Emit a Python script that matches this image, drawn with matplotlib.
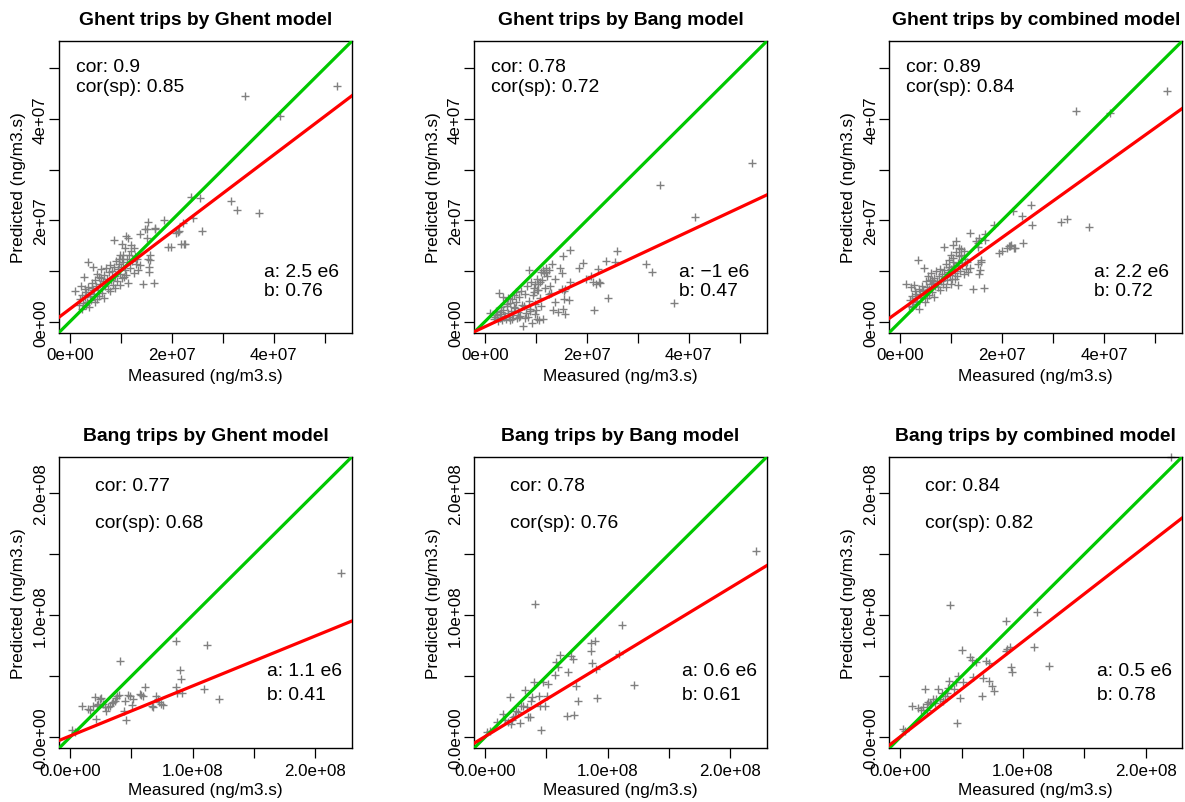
import matplotlib
matplotlib.use("Agg")
import matplotlib.pyplot as plt
import numpy as np

plt.rcParams['font.family'] = ['Liberation Sans', 'DejaVu Sans']

SCALE = 1e6  # all values below in units of 1e6 ng/m3.s

# ---------------- Ghent trips ----------------
ghent_measured = [
    52.3, 34.4, 41.2, 31.6, 32.8, 37.0, 23.8, 25.6, 25.9, 24.1,
    22.1, 21.5, 22.4, 21.8, 19.3, 19.9, 18.4, 16.6, 16.5, 14.3,
    15.4, 14.8, 15.2, 16.7, 13.7, 15.2, 20.9, 21.3, 22.6, 15.8,
    15.3, 15.8, 8.6, 11.0, 11.5, 10.3, 12.0, 10.9, 9.9, 10.4,
    11.6, 9.6, 10.3, 12.9, 13.7, 13.4, 15.6, 15.5, 11.4, 10.7,
    3.5, 4.6, 2.7, 1.1, 2.2, 2.9, 1.8, 2.0, 2.4, 2.6,
    3.0, 3.2, 3.4, 3.6, 3.9, 4.1, 4.3, 4.5, 4.8, 5.0,
    5.2, 5.4, 5.6, 5.8, 6.0, 6.1, 6.3, 6.5, 6.7, 6.9,
    7.1, 7.2, 7.4, 7.6, 7.8, 8.0, 8.2, 8.4, 8.6, 8.8,
    9.0, 9.2, 9.4, 9.6, 9.8, 10.0, 10.2, 10.5, 10.8, 11.1,
    11.3, 11.8, 12.2, 12.5, 12.8, 13.1, 3.7, 4.9, 6.6, 5.3,
    7.9, 8.9, 3.1, 2.3, 6.2, 4.4, 5.7, 9.9, 11.9, 12.6,
]
ghent_by_ghent = [
    46.5, 44.5, 40.5, 23.8, 22.1, 21.4, 24.5, 24.4, 17.9, 20.4,
    19.5, 17.9, 15.4, 15.4, 14.7, 14.7, 20.0, 18.4, 7.6, 7.4,
    19.6, 18.3, 18.2, 18.3, 17.3, 16.4, 17.5, 17.7, 15.3, 13.1,
    12.4, 12.2, 16.2, 16.9, 16.5, 15.4, 15.2, 14.5, 13.1, 13.1,
    13.2, 12.4, 12.4, 11.3, 11.1, 10.1, 10.8, 9.8, 7.7, 8.8,
    11.8, 10.8, 8.8, 6.0, 7.1, 6.4, 3.2, 4.5, 5.3, 3.6,
    4.8, 5.8, 3.9, 6.9, 5.1, 4.3, 7.6, 6.2, 5.4, 8.3,
    7.0, 9.5, 6.3, 8.8, 7.5, 10.3, 5.7, 8.0, 9.2, 7.1,
    10.6, 8.5, 6.5, 9.7, 11.2, 8.2, 9.9, 7.3, 10.8, 9.0,
    12.0, 8.0, 10.3, 11.4, 9.4, 10.8, 8.6, 11.8, 10.1, 9.2,
    12.3, 10.6, 11.9, 9.6, 13.0, 12.3, 2.8, 3.8, 4.6, 4.5,
    6.0, 6.6, 3.2, 2.6, 8.6, 6.6, 5.0, 7.2, 14.0, 14.6,
]
ghent_by_bang = [
    31.2, 27.0, 20.6, 11.3, 9.8, 3.6, 11.9, 11.8, 13.9, 4.7,
    10.3, 2.4, 7.9, 7.5, 11.6, 8.4, 10.5, 14.1, 4.2, 2.0,
    13.0, 10.5, 9.6, 7.9, 8.5, 6.5, 9.0, 7.9, 7.7, 6.5,
    2.6, 1.6, 10.1, 9.8, 10.1, 8.5, 10.5, 7.9, 7.5, 6.2,
    9.6, 5.9, 6.2, 5.6, 3.9, 2.3, 6.0, 4.5, 0.6, 0.3,
    4.8, 4.6, 5.6, 1.8, 2.2, 1.5, 0.5, 1.0, 1.3, 0.2,
    0.8, 1.9, 0.4, 2.4, 1.1, 0.6, 3.0, 1.7, 0.9, 3.6,
    2.1, 4.4, 1.4, 5.2, 2.7, 3.9, 0.8, 2.0, 4.9, 1.2,
    6.1, 3.3, -0.9, 3.0, 5.5, 1.8, 7.1, 0.9, 4.0, 2.6,
    7.9, -0.3, 5.2, 6.6, 3.4, 2.3, 0.6, 7.4, 4.6, 3.0,
    8.2, 6.6, 9.1, 5.5, 7.0, 11.4, 0.9, 0.3, 1.0, 0.6,
    0.7, 2.1, 2.8, 1.4, 5.8, 3.4, 2.9, 1.5, 9.8, 10.2,
]
ghent_by_combined = [
    45.4, 41.5, 41.1, 19.6, 20.3, 18.7, 20.8, 23.1, 19.0, 15.6,
    21.9, 14.9, 14.5, 15.2, 13.6, 13.9, 19.0, 17.3, 6.7, 6.5,
    16.4, 15.9, 15.5, 16.2, 17.5, 14.8, 14.5, 14.9, 14.6, 12.1,
    11.3, 11.8, 14.8, 15.9, 14.6, 15.2, 14.3, 13.8, 13.1, 12.6,
    12.9, 12.2, 11.7, 10.4, 10.6, 9.8, 10.2, 9.4, 7.2, 8.4,
    12.1, 10.5, 7.2, 7.5, 6.8, 6.0, 3.0, 4.2, 5.0, 3.8,
    4.6, 5.5, 4.0, 6.5, 5.3, 4.8, 7.0, 6.0, 5.6, 8.0,
    6.8, 9.0, 6.4, 8.3, 7.4, 9.6, 5.9, 7.6, 8.6, 7.0,
    9.9, 8.1, 6.8, 9.1, 10.4, 8.0, 9.4, 7.5, 10.1, 8.8,
    11.3, 8.2, 9.8, 10.7, 9.2, 10.3, 8.5, 11.0, 9.6, 9.0,
    11.6, 10.0, 11.1, 9.5, 12.3, 11.8, 2.6, 3.9, 4.9, 4.6,
    6.2, 6.9, 3.4, 2.8, 8.2, 6.3, 5.2, 7.5, 13.2, 13.9,
]

# ---------------- Bang trips ----------------
bang_measured = [
    220.5, 40.8, 111.7, 86.1, 121.3, 109.0, 89.5, 90.3, 86.5, 91.4,
    87.4, 61.5, 58.2, 59.5, 56.8, 70.1, 72.0, 67.6, 74.5, 76.2,
    72.5, 66.6, 47.3, 51.1, 50.3, 48.7, 44.0, 46.0, 45.2, 39.9,
    38.6, 37.8, 36.4, 35.0, 34.0, 32.4, 31.0, 29.4, 28.5, 26.9,
    24.2, 25.0, 20.1, 22.0, 18.7, 21.5, 23.0, 16.6, 14.7, 9.8,
    2.0, 3.8,
]
bang_by_ghent = [
    134.8, 62.3, 75.8, 78.6, 31.4, 39.4, 54.8, 48.1, 41.5, 36.0,
    36.4, 41.5, 34.8, 33.5, 35.6, 34.2, 31.5, 24.8, 27.5, 26.3,
    29.0, 25.5, 34.8, 31.3, 26.4, 34.0, 21.8, 14.6, 30.0, 34.8,
    33.7, 32.4, 30.2, 29.3, 28.0, 26.1, 24.8, 21.8, 24.8, 27.5,
    31.5, 32.4, 32.9, 26.6, 25.6, 15.0, 27.5, 22.8, 23.4, 25.6,
    6.3, 4.4,
]
bang_by_bang = [
    152.4, 109.5, 92.1, 77.7, 42.6, 68.6, 78.6, 56.4, 70.9, 32.3,
    60.7, 67.1, 61.4, 57.6, 51.1, 66.8, 64.1, 53.3, 41.8, 30.2,
    18.5, 17.9, 45.1, 43.8, 33.7, 25.6, 33.7, 5.9, 26.1, 45.1,
    33.4, 30.2, 17.1, 16.6, 24.8, 39.1, 26.1, 25.6, 11.5, 20.7,
    17.9, 22.0, 32.9, 13.9, 12.6, 11.2, 17.0, 13.9, 19.3, 13.0,
    4.4, 4.9,
]
bang_by_combined = [
    230.0, 108.1, 103.0, 95.4, 58.2, 73.7, 73.7, 57.4, 70.9, 53.8,
    72.3, 61.4, 63.6, 49.2, 65.5, 62.8, 60.9, 48.4, 41.9, 37.8,
    46.0, 33.7, 50.0, 45.6, 71.7, 32.1, 39.7, 11.7, 45.6, 46.5,
    40.3, 36.4, 34.2, 30.2, 36.4, 31.5, 39.7, 31.5, 28.3, 31.5,
    28.3, 27.5, 39.7, 27.5, 25.0, 22.8, 29.0, 22.8, 24.0, 25.6,
    6.5, 5.5,
]

# panel annotations
titles = ["Ghent trips by Ghent model", "Ghent trips by Bang model", "Ghent trips by combined model",
          "Bang trips by Ghent model", "Bang trips by Bang model", "Bang trips by combined model"]
cor = ["0.9", "0.78", "0.89", "0.77", "0.78", "0.84"]
cor_sp = ["0.85", "0.72", "0.84", "0.68", "0.76", "0.82"]
a_txt = ["2.5 e6", "\u22121 e6", "2.2 e6", "1.1 e6", "0.6 e6", "0.5 e6"]
b_txt = ["0.76", "0.47", "0.72", "0.41", "0.61", "0.78"]
a_val = [2.5e6, -1e6, 2.2e6, 1.1e6, 0.6e6, 0.5e6]
b_val = [0.76, 0.47, 0.72, 0.41, 0.61, 0.78]

row_max = [53.2e6, 221e6]
row_ticks = [[0, 1e7, 2e7, 3e7, 4e7, 5e7], [0, 0.5e8, 1e8, 1.5e8, 2e8]]
row_ticklabels = [["0e+00", "", "2e+07", "", "4e+07", ""],
                  ["0.0e+00", "", "1.0e+08", "", "2.0e+08"]]

xs = [ghent_measured] * 3 + [bang_measured] * 3
ys = [ghent_by_ghent, ghent_by_bang, ghent_by_combined, bang_by_ghent, bang_by_bang, bang_by_combined]

W, H = 1185, 803
fig = plt.figure(figsize=(W / 100, H / 100), dpi=100)

col_left = [59, 474, 889.3]
row_top = [42, 457.7]
box_w, box_h = 293, 291.5

for i in range(6):
    r, c = divmod(i, 3)
    left = col_left[c] / W
    bottom = 1 - (row_top[r] + box_h) / H
    ax = fig.add_axes([left, bottom, box_w / W, box_h / H])
    M = row_max[r]
    lo, hi = -0.04 * M, M * 1.04
    ax.set_xlim(lo, hi)
    ax.set_ylim(lo, hi)
    x = np.array(xs[i]) * SCALE
    y = np.array(ys[i]) * SCALE
    ax.plot(x, y, linestyle='none', marker='+', color='#808080', markersize=6, mew=1.0, zorder=2, clip_on=False)
    ax.axline((0, 0), slope=1, color='#00C800', lw=2.3, zorder=3)
    ax.axline((0, a_val[i]), slope=b_val[i], color='#FF0000', lw=2.3, zorder=4)

    ax.set_xticks(row_ticks[r])
    ax.set_xticklabels(row_ticklabels[r])
    ax.set_yticks(row_ticks[r])
    ax.set_yticklabels(row_ticklabels[r], rotation=90, va='center')
    ax.tick_params(axis='both', length=7, width=0.9, labelsize=12.2, color='black')
    ax.tick_params(axis='x', pad=3.5)
    ax.tick_params(axis='y', pad=1.0)
    for sp in ax.spines.values():
        sp.set_linewidth(1.0)
        sp.set_color('black')

    ax.set_xlabel("Measured (ng/m3.s)", fontsize=12.4)
    ax.set_ylabel("Predicted (ng/m3.s)", fontsize=12.4)
    ax.xaxis.label.set_va('center')
    ax.yaxis.label.set_va('center')
    ax.xaxis.set_label_coords(0.5, -0.149 if r == 0 else -0.141)
    ax.yaxis.set_label_coords(-0.139, 0.5)

    ax.set_title(titles[i], fontsize=13.9, fontweight='bold', pad=12)

    if r == 0:
        ax.text(0.058, 0.911, f"cor: {cor[i]}", transform=ax.transAxes, fontsize=13.9, va='center', ha='left')
        ax.text(0.058, 0.845, f"cor(sp): {cor_sp[i]}", transform=ax.transAxes, fontsize=13.9, va='center', ha='left')
        ax.text(0.70, 0.21, f"a: {a_txt[i]}", transform=ax.transAxes, fontsize=13.9, va='center', ha='left')
        ax.text(0.70, 0.144, f"b: {b_txt[i]}", transform=ax.transAxes, fontsize=13.9, va='center', ha='left')
    else:
        ax.text(0.123, 0.90, f"cor: {cor[i]}", transform=ax.transAxes, fontsize=13.9, va='center', ha='left')
        ax.text(0.123, 0.773, f"cor(sp): {cor_sp[i]}", transform=ax.transAxes, fontsize=13.9, va='center', ha='left')
        ax.text(0.709, 0.266, f"a: {a_txt[i]}", transform=ax.transAxes, fontsize=13.9, va='center', ha='left')
        ax.text(0.709, 0.184, f"b: {b_txt[i]}", transform=ax.transAxes, fontsize=13.9, va='center', ha='left')

fig.savefig("out.png", dpi=100)
